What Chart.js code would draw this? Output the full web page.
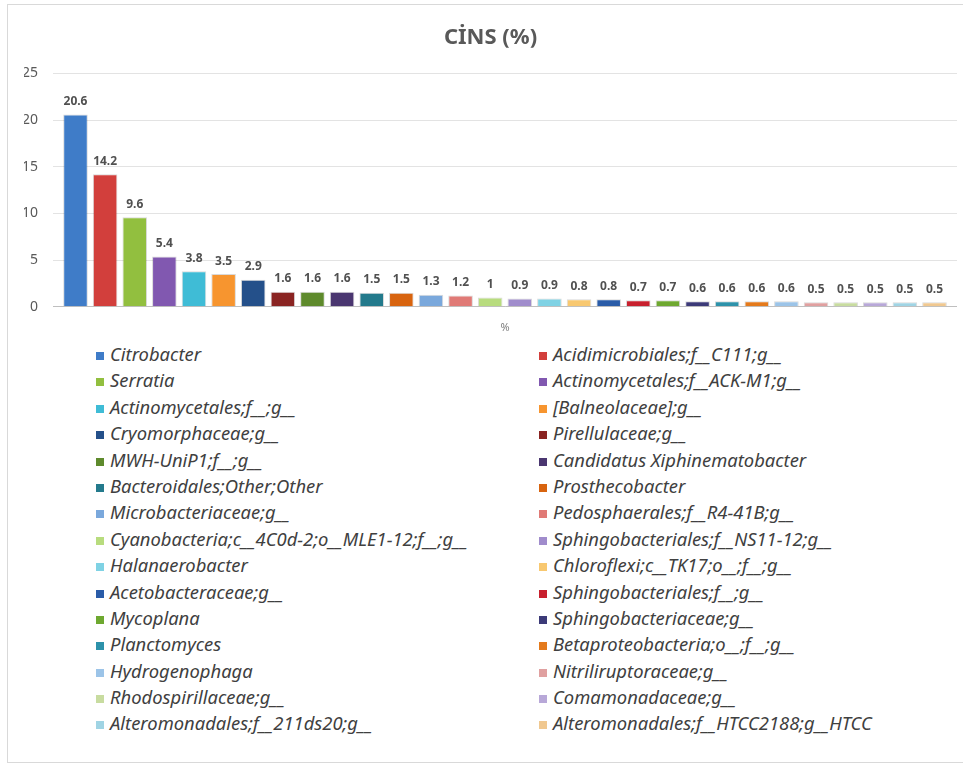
<!DOCTYPE html>
<html>
<head>
<meta charset="utf-8">
<script src="https://cdn.jsdelivr.net/npm/chart.js@4/dist/chart.umd.min.js"></script>
<style>
  body { margin: 0; background: #fff; font-family: "Noto Sans", "Open Sans", sans-serif; }
  .box { position: absolute; left: 7px; top: 4px; width: 956px; height: 757px; border: 1px solid #d9d9d9; border-right: none; }
  .chartwrap { position: absolute; left: 0; top: 0; width: 949px; height: 335px; }
  #legend { position: absolute; left: 88px; top: 336px; width: 860px; display: grid; grid-template-columns: 443px 417px; grid-auto-rows: 26.4px; }
  #legend div { font-style: italic; font-size: 18.4px; color: #404040; white-space: nowrap; line-height: 26px; }
  #legend span { display: inline-block; width: 8px; height: 8px; margin-right: 6px; vertical-align: 1px; }
</style>
</head>
<body>
<div class="box">
  <div class="chartwrap"><canvas id="myBarChart"></canvas></div>
  <div id="legend"></div>
</div>
<script>
var genera = ["Citrobacter", "Acidimicrobiales;f__C111;g__", "Serratia", "Actinomycetales;f__ACK-M1;g__",
    "Actinomycetales;f__;g__", "[Balneolaceae];g__", "Cryomorphaceae;g__", "Pirellulaceae;g__",
    "MWH-UniP1;f__;g__", "Candidatus Xiphinematobacter", "Bacteroidales;Other;Other", "Prosthecobacter",
    "Microbacteriaceae;g__", "Pedosphaerales;f__R4-41B;g__", "Cyanobacteria;c__4C0d-2;o__MLE1-12;f__;g__",
    "Sphingobacteriales;f__NS11-12;g__", "Halanaerobacter", "Chloroflexi;c__TK17;o__;f__;g__",
    "Acetobacteraceae;g__", "Sphingobacteriales;f__;g__", "Mycoplana", "Sphingobacteriaceae;g__",
    "Planctomyces", "Betaproteobacteria;o__;f__;g__", "Hydrogenophaga", "Nitriliruptoraceae;g__",
    "Rhodospirillaceae;g__", "Comamonadaceae;g__", "Alteromonadales;f__211ds20;g__", "Alteromonadales;f__HTCC2188;g__HTCC"];
var percents = [20.6, 14.2, 9.6, 5.4, 3.8, 3.5, 2.9, 1.6, 1.6, 1.6, 1.5, 1.5, 1.3, 1.2, 1,
    0.9, 0.9, 0.8, 0.8, 0.7, 0.7, 0.6, 0.6, 0.6, 0.6, 0.5, 0.5, 0.5, 0.5, 0.5];
var colors = ["#3f7cc8", "#d23f3c", "#92bf3f", "#8158b0", "#3fbcd6", "#f7952f",
    "#24508a", "#8a2422", "#5e8a2c", "#4a3670", "#237a8c", "#d8640f",
    "#7aa8dc", "#e07a76", "#b8dc7e", "#a08ccc", "#7fd2e4", "#f8c870",
    "#2a5ca8", "#c8202e", "#6ea830", "#3c3a78", "#2d92aa", "#e47a1c",
    "#9cc4e8", "#e0a0a0", "#c8dca0", "#b8a8d8", "#a0d4e4", "#f0c890"];
var categories = ["%"];
var yTicks = { min: 0, max: 25, step: 5 };

// one dataset per genus, all in the single "%" category
var datasets = genera.map(function (name, i) {
    return {
        label: name,
        data: [percents[i]],
        backgroundColor: colors[i],
        borderColor: "rgba(0,0,0,0.15)",
        borderWidth: 1,
        barPercentage: 0.83,
        categoryPercentage: 0.983
    };
});

// numbers above the bars
var valueLabels = {
    id: 'valueLabels',
    afterDatasetsDraw: function (chart) {
        var ctx = chart.ctx;
        ctx.save();
        ctx.font = "bold 12px 'Noto Sans', sans-serif";
        ctx.fillStyle = "#505050";
        ctx.textAlign = "center";
        ctx.textBaseline = "bottom";
        chart.data.datasets.forEach(function (ds, i) {
            var bar = chart.getDatasetMeta(i).data[0];
            ctx.fillText(String(ds.data[0]), bar.x, bar.y - 7);
        });
        ctx.restore();
    }
};

var ctx = document.getElementById('myBarChart').getContext('2d');
var chart = new Chart(ctx, {
    type: 'bar',
    data: { labels: categories, datasets: datasets },
    plugins: [valueLabels],
    options: {
        responsive: true,
        maintainAspectRatio: false,
        animation: false,
        layout: { padding: { left: 16, right: 0, top: 0, bottom: 0 } },
        plugins: {
            legend: { display: false },
            tooltip: { enabled: false },
            title: {
                display: true,
                text: 'CİNS (%)',
                color: '#595959',
                font: { size: 22, weight: 'bold', family: "'Noto Sans', sans-serif" },
                padding: { top: 20, bottom: 22 }
            }
        },
        scales: {
            x: {
                grid: { display: false },
                border: { color: '#bfbfbf' },
                ticks: { color: '#7f7f7f', font: { size: 11, family: "'Noto Sans', sans-serif" }, padding: 6 }
            },
            y: {
                min: yTicks.min,
                max: yTicks.max,
                afterFit: function (scale) { scale.width = 29; },
                ticks: { stepSize: yTicks.step, color: '#595959', font: { size: 14, family: "'Noto Sans', sans-serif" }, padding: 15 },
                grid: { color: '#e3e3e3', drawTicks: false },
                border: { display: false }
            }
        }
    }
});

// legend in two columns, same order as the bars
var legend = document.getElementById('legend');
genera.forEach(function (name, i) {
    var item = document.createElement('div');
    var sw = document.createElement('span');
    sw.style.background = colors[i];
    item.appendChild(sw);
    item.appendChild(document.createTextNode(name));
    legend.appendChild(item);
});
</script>
</body>
</html>
